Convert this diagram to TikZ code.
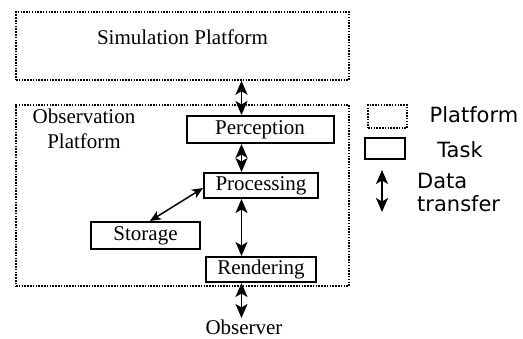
\documentclass[tikz,border=0pt]{standalone}
\usepackage{fontspec}
\setmainfont{Liberation Serif}
\newfontfamily\legendfont{DejaVu Sans}
\usetikzlibrary{arrows.meta,calc}
\tikzset{
  platform/.style={draw, line width=1.5pt, dash pattern=on 1.5pt off 1.3pt, inner sep=0pt},
  task/.style={draw, line width=2pt, inner sep=0pt},
  lbl/.style={inner sep=0pt, font=\fontsize{21}{25}\selectfont},
  leg/.style={inner sep=0pt, font=\legendfont\fontsize{21}{23}\selectfont},
  flow/.style={line width=1.6pt, {Stealth[length=14pt,width=12pt,inset=3.5pt]}-{Stealth[length=14pt,width=12pt,inset=3.5pt]}},
  thinflow/.style={line width=1.5pt, {Stealth[length=11pt,width=9.5pt,inset=3pt]}-{Stealth[length=11pt,width=9.5pt,inset=3pt]}}
}
\begin{document}
\begin{tikzpicture}[x=1pt,y=-1pt]
\useasboundingbox (0,0) rectangle (523,338);

% platforms
\node[platform, minimum width=333pt, minimum height=68pt] (sim) at (182.5,46) {};
\node[lbl] (simtext) at (182.5,37) {Simulation Platform};
\node[platform, minimum width=333pt, minimum height=181pt] (obs) at (182.5,195.5) {};
\node[lbl, align=center] (obstext) at (84,129) {Observation\\Platform};

% tasks
\node[task, minimum width=147pt, minimum height=27pt, lbl, draw] (perc) at (260,129.5) {Perception};
\node[task, minimum width=114pt, minimum height=25pt, lbl, draw] (proc) at (261,185.5) {Processing};
\node[task, minimum width=109pt, minimum height=27pt, lbl, draw] (stor) at (145.5,235.5) {Storage};
\node[task, minimum width=110pt, minimum height=25pt, lbl, draw] (rend) at (261,269.5) {Rendering};
\node[lbl, anchor=base] (observer) at (244,334.5) {Observer};

% data flow along the main spine
\coordinate (spine) at (241.5,0);
\coordinate (obsend) at (241.5,318);
\draw[flow] (sim.south -| spine) -- (perc.north -| spine);
\draw[flow] (perc.south -| spine) -- (proc.north -| spine);
\draw[flow] (proc.south -| spine) -- (rend.north -| spine);
\draw[flow] (rend.south -| spine) -- (obsend);
\draw[thinflow] ($(stor.north)+(4.5,0)$) -- ($(proc.west)+(0,2.5)$);

% legend
\node[platform, minimum width=39pt, minimum height=23pt] (legplat) at (387.5,116.5) {};
\node[leg] (legplattext) at (474,115) {Platform};
\node[task, minimum width=40pt, minimum height=21pt] (legtask) at (385,148.5) {};
\node[leg] (legtasktext) at (460,150) {Task};
\coordinate (legtop) at (382,170);
\coordinate (legbot) at (382,212);
\draw[flow] (legtop) -- (legbot);
\node[leg, anchor=west, align=left] (legdata) at (417,192.5) {Data\\transfer};
\end{tikzpicture}
\end{document}
